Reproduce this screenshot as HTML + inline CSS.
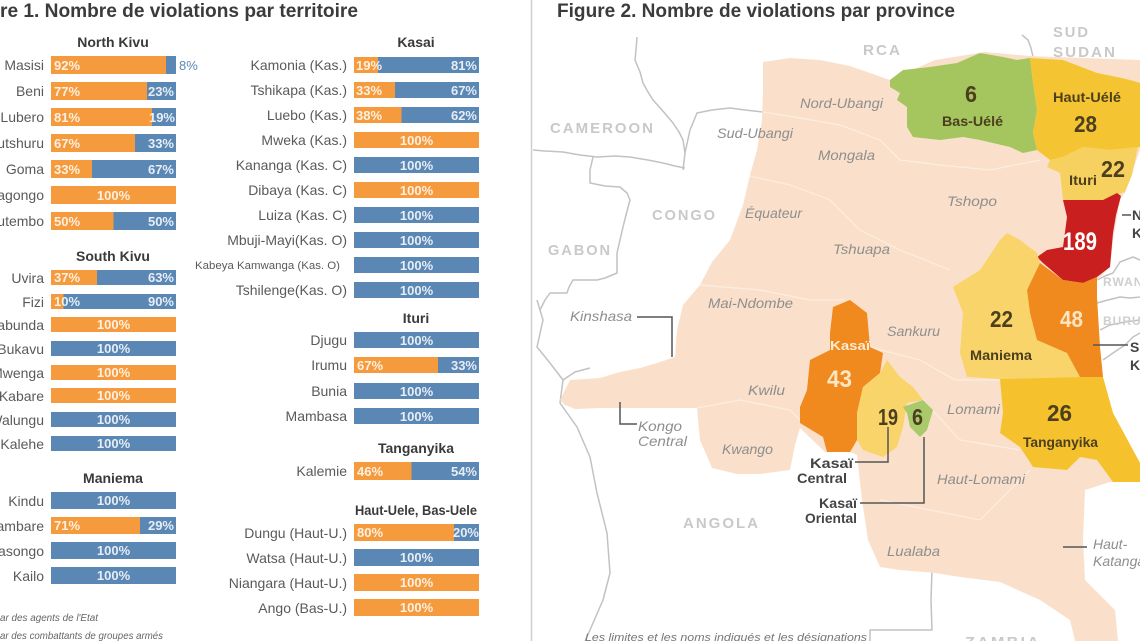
<!DOCTYPE html>
<html><head><meta charset="utf-8"><style>
html,body{margin:0;padding:0;background:#fff;}
svg{display:block;}
text{font-family:"Liberation Sans",sans-serif;}
.t{font-weight:bold;font-size:19px;fill:#3b3b3b;}
.h{font-weight:bold;font-size:14px;fill:#3a3a3a;text-anchor:middle;}
.l{font-size:14px;fill:#5a5a5a;text-anchor:end;}
.p{font-weight:bold;font-size:13px;fill:#fff;fill-opacity:.85;}
.pe{font-weight:bold;font-size:13px;fill:#fff;fill-opacity:.85;text-anchor:end;}
.pm{font-weight:bold;font-size:13px;fill:#fff;fill-opacity:.85;text-anchor:middle;}
.pv{font-style:italic;font-size:14px;fill:#8e8e8e;}
.cn{font-weight:bold;font-size:15px;fill:#c9c9c9;letter-spacing:2px;}
.n{font-weight:bold;font-size:23px;fill:#4b3f1e;}
.nl{font-weight:bold;font-size:14px;fill:#4b3f1e;}
.dl{font-weight:bold;font-size:14px;fill:#444;}
</style></head><body>
<svg width="1140" height="641" viewBox="0 0 1140 641" xmlns="http://www.w3.org/2000/svg">
<rect width="1140" height="641" fill="#fff"/>

<!-- Titles -->
<text class="t" x="0" y="17" textLength="358" lengthAdjust="spacingAndGlyphs">re 1. Nombre de violations par territoire</text>
<text class="t" x="557" y="17" textLength="398" lengthAdjust="spacingAndGlyphs">Figure 2. Nombre de violations par province</text>
<line x1="531.5" y1="0" x2="531.5" y2="641" stroke="#cfcfcf" stroke-width="1.5"/>

<!-- ===== LEFT PANEL ===== -->
<text class="h" x="113" y="47">North Kivu</text>
<g>
<rect x="51" y="56" width="115" height="18" fill="#F59B3D"/><rect x="166" y="56" width="10" height="18" fill="#5B87B5"/>
<text class="p" x="54" y="70">92%</text><text x="179" y="70" font-size="13" fill="#5B87B5">8%</text>
<text class="l" x="44" y="70">Masisi</text>

<rect x="51" y="82" width="96" height="18" fill="#F59B3D"/><rect x="147" y="82" width="29" height="18" fill="#5B87B5"/>
<text class="p" x="54" y="96">77%</text><text class="pe" x="174" y="96">23%</text>
<text class="l" x="44" y="96">Beni</text>

<rect x="51" y="108" width="101" height="18" fill="#F59B3D"/><rect x="152" y="108" width="24" height="18" fill="#5B87B5"/>
<text class="p" x="54" y="122">81%</text><text class="pe" x="175" y="122">19%</text>
<text class="l" x="44" y="122">Lubero</text>

<rect x="51" y="134" width="84" height="18" fill="#F59B3D"/><rect x="135" y="134" width="41" height="18" fill="#5B87B5"/>
<text class="p" x="54" y="148">67%</text><text class="pe" x="174" y="148">33%</text>
<text class="l" x="44" y="148">Rutshuru</text>

<rect x="51" y="160" width="41" height="18" fill="#F59B3D"/><rect x="92" y="160" width="84" height="18" fill="#5B87B5"/>
<text class="p" x="54" y="174">33%</text><text class="pe" x="174" y="174">67%</text>
<text class="l" x="44" y="174">Goma</text>

<rect x="51" y="186" width="125" height="18" fill="#F59B3D"/>
<text class="pm" x="113.5" y="200">100%</text>
<text class="l" x="44" y="200">Nyiragongo</text>

<rect x="51" y="212" width="62.5" height="18" fill="#F59B3D"/><rect x="113.5" y="212" width="62.5" height="18" fill="#5B87B5"/>
<text class="p" x="54" y="226">50%</text><text class="pe" x="174" y="226">50%</text>
<text class="l" x="44" y="226">Butembo</text>
</g>

<text class="h" x="113" y="261">South Kivu</text>
<g>
<rect x="51" y="270" width="46" height="15" fill="#F59B3D"/><rect x="97" y="270" width="79" height="15" fill="#5B87B5"/>
<text class="p" x="54" y="282">37%</text><text class="pe" x="174" y="282">63%</text>
<text class="l" x="44" y="283">Uvira</text>

<rect x="51" y="294" width="12.5" height="15" fill="#F59B3D"/><rect x="63.5" y="294" width="112.5" height="15" fill="#5B87B5"/>
<text class="p" x="54" y="306">10%</text><text class="pe" x="174" y="306">90%</text>
<text class="l" x="44" y="307">Fizi</text>

<rect x="51" y="317" width="125" height="15" fill="#F59B3D"/><text class="pm" x="113.5" y="329">100%</text>
<text class="l" x="44" y="330">Shabunda</text>
<rect x="51" y="341" width="125" height="15" fill="#5B87B5"/><text class="pm" x="113.5" y="353">100%</text>
<text class="l" x="44" y="354">Bukavu</text>
<rect x="51" y="365" width="125" height="15" fill="#F59B3D"/><text class="pm" x="113.5" y="377">100%</text>
<text class="l" x="44" y="378">Mwenga</text>
<rect x="51" y="388" width="125" height="15" fill="#F59B3D"/><text class="pm" x="113.5" y="400">100%</text>
<text class="l" x="44" y="401">Kabare</text>
<rect x="51" y="412" width="125" height="15" fill="#5B87B5"/><text class="pm" x="113.5" y="424">100%</text>
<text class="l" x="44" y="425">Walungu</text>
<rect x="51" y="436" width="125" height="15" fill="#5B87B5"/><text class="pm" x="113.5" y="448">100%</text>
<text class="l" x="44" y="449">Kalehe</text>
</g>

<text class="h" x="113" y="483">Maniema</text>
<g>
<rect x="51" y="492" width="125" height="17" fill="#5B87B5"/><text class="pm" x="113.5" y="505">100%</text>
<text class="l" x="44" y="506">Kindu</text>
<rect x="51" y="517" width="89" height="17" fill="#F59B3D"/><rect x="140" y="517" width="36" height="17" fill="#5B87B5"/>
<text class="p" x="54" y="530">71%</text><text class="pe" x="174" y="530">29%</text>
<text class="l" x="44" y="531">Kabambare</text>
<rect x="51" y="542" width="125" height="17" fill="#5B87B5"/><text class="pm" x="113.5" y="555">100%</text>
<text class="l" x="44" y="556">Kasongo</text>
<rect x="51" y="567" width="125" height="17" fill="#5B87B5"/><text class="pm" x="113.5" y="580">100%</text>
<text class="l" x="44" y="581">Kailo</text>
</g>

<text x="0" y="621" font-size="10.5" font-style="italic" fill="#666" textLength="98" lengthAdjust="spacingAndGlyphs">ar des agents de l'Etat</text>
<text x="0" y="639" font-size="10.5" font-style="italic" fill="#666" textLength="163" lengthAdjust="spacingAndGlyphs">ar des combattants de groupes armés</text>

<!-- ===== MIDDLE PANEL ===== -->
<text class="h" x="416" y="47">Kasai</text>
<g>
<rect x="354" y="57" width="24" height="16" fill="#F59B3D"/><rect x="378" y="57" width="101" height="16" fill="#5B87B5"/>
<text class="p" x="356" y="70">19%</text><text class="pe" x="477" y="70">81%</text>
<text class="l" x="347" y="70">Kamonia (Kas.)</text>

<rect x="354" y="82" width="41" height="16" fill="#F59B3D"/><rect x="395" y="82" width="84" height="16" fill="#5B87B5"/>
<text class="p" x="356" y="95">33%</text><text class="pe" x="477" y="95">67%</text>
<text class="l" x="347" y="95">Tshikapa (Kas.)</text>

<rect x="354" y="107" width="47.5" height="16" fill="#F59B3D"/><rect x="401.5" y="107" width="77.5" height="16" fill="#5B87B5"/>
<text class="p" x="356" y="120">38%</text><text class="pe" x="477" y="120">62%</text>
<text class="l" x="347" y="120">Luebo (Kas.)</text>

<rect x="354" y="132" width="125" height="16" fill="#F59B3D"/><text class="pm" x="416.5" y="145">100%</text>
<text class="l" x="347" y="145">Mweka (Kas.)</text>
<rect x="354" y="157" width="125" height="16" fill="#5B87B5"/><text class="pm" x="416.5" y="170">100%</text>
<text class="l" x="347" y="170">Kananga (Kas. C)</text>
<rect x="354" y="182" width="125" height="16" fill="#F59B3D"/><text class="pm" x="416.5" y="195">100%</text>
<text class="l" x="347" y="195">Dibaya (Kas. C)</text>
<rect x="354" y="207" width="125" height="16" fill="#5B87B5"/><text class="pm" x="416.5" y="220">100%</text>
<text class="l" x="347" y="220">Luiza (Kas. C)</text>
<rect x="354" y="232" width="125" height="16" fill="#5B87B5"/><text class="pm" x="416.5" y="245">100%</text>
<text class="l" x="347" y="245">Mbuji-Mayi(Kas. O)</text>
<rect x="354" y="257" width="125" height="16" fill="#5B87B5"/><text class="pm" x="416.5" y="270">100%</text>
<text x="340" y="269" font-size="11" fill="#5a5a5a" text-anchor="end" textLength="145" lengthAdjust="spacingAndGlyphs">Kabeya Kamwanga (Kas. O)</text>
<rect x="354" y="282" width="125" height="16" fill="#5B87B5"/><text class="pm" x="416.5" y="295">100%</text>
<text class="l" x="347" y="295">Tshilenge(Kas. O)</text>
</g>

<text class="h" x="416" y="323">Ituri</text>
<g>
<rect x="354" y="332" width="125" height="16" fill="#5B87B5"/><text class="pm" x="416.5" y="345">100%</text>
<text class="l" x="347" y="345">Djugu</text>
<rect x="354" y="357" width="84" height="16" fill="#F59B3D"/><rect x="438" y="357" width="41" height="16" fill="#5B87B5"/>
<text class="p" x="357" y="370">67%</text><text class="pe" x="477" y="370">33%</text>
<text class="l" x="347" y="370">Irumu</text>
<rect x="354" y="383" width="125" height="16" fill="#5B87B5"/><text class="pm" x="416.5" y="396">100%</text>
<text class="l" x="347" y="396">Bunia</text>
<rect x="354" y="408" width="125" height="16" fill="#5B87B5"/><text class="pm" x="416.5" y="421">100%</text>
<text class="l" x="347" y="421">Mambasa</text>
</g>

<text class="h" x="416" y="453">Tanganyika</text>
<rect x="354" y="462" width="57.5" height="18" fill="#F59B3D"/><rect x="411.5" y="462" width="67.5" height="18" fill="#5B87B5"/>
<text class="p" x="357" y="476">46%</text><text class="pe" x="477" y="476">54%</text>
<text class="l" x="347" y="476">Kalemie</text>

<text x="355" y="515" font-size="14" font-weight="bold" fill="#3a3a3a" textLength="122" lengthAdjust="spacingAndGlyphs">Haut-Uele, Bas-Uele</text>
<g>
<rect x="354" y="524" width="100" height="17" fill="#F59B3D"/><rect x="454" y="524" width="25" height="17" fill="#5B87B5"/>
<text class="p" x="357" y="537">80%</text><text class="pe" x="479" y="537">20%</text>
<text class="l" x="347" y="538">Dungu (Haut-U.)</text>
<rect x="354" y="549" width="125" height="17" fill="#5B87B5"/><text class="pm" x="416.5" y="562">100%</text>
<text class="l" x="347" y="563">Watsa (Haut-U.)</text>
<rect x="354" y="574" width="125" height="17" fill="#F59B3D"/><text class="pm" x="416.5" y="587">100%</text>
<text class="l" x="347" y="588">Niangara (Haut-U.)</text>
<rect x="354" y="599" width="125" height="17" fill="#F59B3D"/><text class="pm" x="416.5" y="612">100%</text>
<text class="l" x="347" y="613">Ango (Bas-U.)</text>
</g>

<!-- ===== MAP ===== -->
<!-- neighbour borders -->
<g fill="none" stroke="#c2c2c2" stroke-width="1.5" stroke-linejoin="round">
<polyline points="637,37 636,50 635,60 640,72 643,83 648,92 653,100 662,110 673,123 679,132 683,140 685,153 683,170"/>
<polyline points="533,150 545,151 563,152 580,155 597,157 615,156 630,157 648,160 663,163 675,166 685,168"/>
<polyline points="685,153 690,130 697,113 712,110 730,108 745,110 763,112"/>
<polyline points="593,157 590,170 590,183 605,186 620,187 627,193 630,200 626,215 623,227 620,240 617,253 617,273 605,278 597,280 585,280 573,280 569,287 567,293 555,293 550,293 545,300 540,310"/>
<polyline points="537,300 543,320 537,347 550,363 563,380 560,403 577,427 590,457 597,493 607,533 610,573 603,600 590,630 585,641"/>
<polyline points="563,380 575,372 590,368"/>
<polyline points="1022,35 1028,40 1031,48 1033,57"/>
<polyline points="932,570 931,600 932,630 900,630 870,630 870,641"/>
<polyline points="1097,280 1105,276 1113,273 1120,262 1133,257 1140,260"/>
<polyline points="1097,303 1108,300 1120,297 1130,298 1140,297"/>
<polyline points="1100,330 1110,325 1125,322 1140,320"/>
<polyline points="1103,360 1113,353 1125,345 1133,337 1140,333"/>
</g>

<!-- DRC base -->
<polygon fill="#FAE0CA" points="763,62 790,58 820,60 850,66 890,80 935,60 985,52 1030,56 1140,60 1140,150 1125,192 1120,200 1113,240 1110,267 1097,280 1097,300 1100,347 1103,377 1113,413 1140,463 1140,482 1110,482 1085,490 1083,540 1085,580 1100,595 1115,610 1118,641 1075,641 1070,620 1040,600 1000,582 960,577 935,573 900,570 880,567 868,540 862,500 857,455 850,452 825,452 800,428 795,445 790,470 760,474 737,474 712,468 700,440 697,408 640,408 600,408 575,409 565,405 560,400 570,380 600,378 620,372 640,368 660,362 675,357 677,330 683,305 700,285 712,262 730,240 743,205 750,175 757,150 762,120 763,90"/>
<!-- faint internal lines -->
<g fill="none" stroke="#fff" stroke-opacity=".45" stroke-width="1.2">
<polyline points="763,112 800,118 840,125 880,140 900,160 940,165 990,170 1040,160"/>
<polyline points="745,175 790,185 830,200 860,230 900,250 950,270"/>
<polyline points="700,285 760,290 810,300 845,300"/>
<polyline points="697,408 740,400 790,410 800,420"/>
<polyline points="870,347 920,360 955,380 1000,380"/>
<polyline points="923,400 960,440 1020,450"/>
<polyline points="880,500 930,510 980,520 1030,470"/>
</g>

<!-- provinces -->
<polygon fill="#A5C55E" points="890,80 903,70 930,67 957,63 980,53 1003,57 1017,60 1030,58 1033,83 1037,110 1033,133 1037,150 1023,153 1010,147 980,140 963,137 940,140 913,137 907,127 907,107 897,100 900,93 890,87"/>
<polygon fill="#F5C432" points="1030,58 1063,60 1097,73 1117,77 1130,80 1140,83 1140,147 1110,150 1083,147 1063,157 1050,160 1037,150 1033,133 1037,110 1033,83"/>
<polygon fill="#F7D160" points="1050,160 1063,157 1083,147 1110,150 1138,147 1132,175 1125,192 1103,200 1063,200 1060,173 1047,167"/>
<polygon fill="#C91F1F" points="1063,200 1103,200 1117,193 1121,196 1116,215 1113,233 1110,267 1097,277 1083,283 1063,280 1043,263 1037,257 1047,250 1063,247 1067,217"/>
<polygon fill="#F8D46A" points="953,287 980,270 1000,240 1007,233 1020,240 1037,253 1040,263 1027,290 1030,313 1037,340 1067,353 1080,377 1000,379 967,377 960,353 963,313"/>
<polygon fill="#F08A1E" points="1027,290 1040,263 1063,280 1083,283 1097,277 1097,297 1100,347 1103,377 1080,377 1067,353 1037,340 1030,313"/>
<polygon fill="#F5C22E" points="1000,379 1080,377 1103,377 1113,413 1140,463 1140,482 1113,482 1097,460 1080,457 1067,470 1033,467 1020,447 1000,433 1003,413"/>
<polygon fill="#F08A1E" points="833,307 850,300 867,313 870,347 883,353 880,373 863,387 857,413 857,440 850,452 827,452 823,437 800,423 800,407 807,390 810,360 830,350 830,333"/>
<polygon fill="#F8D46A" points="863,387 880,373 887,360 900,377 913,387 923,400 907,403 903,427 897,447 883,457 863,450 857,440 857,413"/>
<polygon fill="#A9C96A" points="903,407 923,400 933,410 927,430 920,437 910,427 907,413"/>

<!-- neighbour country labels -->
<text class="cn" x="550" y="133" textLength="105" lengthAdjust="spacingAndGlyphs">CAMEROON</text>
<text class="cn" x="652" y="220" textLength="65" lengthAdjust="spacingAndGlyphs">CONGO</text>
<text class="cn" x="548" y="255" textLength="64" lengthAdjust="spacingAndGlyphs">GABON</text>
<text class="cn" x="863" y="55" textLength="39" lengthAdjust="spacingAndGlyphs">RCA</text>
<text class="cn" x="1053" y="37" textLength="37" lengthAdjust="spacingAndGlyphs">SUD</text>
<text class="cn" x="1053" y="57" textLength="64" lengthAdjust="spacingAndGlyphs">SUDAN</text>
<text class="cn" x="683" y="528" textLength="77" lengthAdjust="spacingAndGlyphs">ANGOLA</text>
<text class="cn" x="965" y="647" textLength="76" lengthAdjust="spacingAndGlyphs">ZAMBIA</text>
<text x="1103" y="286" font-size="12" font-weight="bold" fill="#cfcfcf" letter-spacing="1">RWAN</text>
<text x="1103" y="325" font-size="12" font-weight="bold" fill="#cfcfcf" letter-spacing="1">BURU</text>

<!-- province names (italic) -->
<text class="pv" x="800" y="108" textLength="83" lengthAdjust="spacingAndGlyphs">Nord-Ubangi</text>
<text class="pv" x="717" y="138" textLength="76" lengthAdjust="spacingAndGlyphs">Sud-Ubangi</text>
<text class="pv" x="818" y="160" textLength="57" lengthAdjust="spacingAndGlyphs">Mongala</text>
<text class="pv" x="745" y="218" textLength="57" lengthAdjust="spacingAndGlyphs">Équateur</text>
<text class="pv" x="947" y="206" textLength="50" lengthAdjust="spacingAndGlyphs">Tshopo</text>
<text class="pv" x="833" y="254" textLength="57" lengthAdjust="spacingAndGlyphs">Tshuapa</text>
<text class="pv" x="708" y="308" textLength="85" lengthAdjust="spacingAndGlyphs">Mai-Ndombe</text>
<text class="pv" x="570" y="321" textLength="62" lengthAdjust="spacingAndGlyphs">Kinshasa</text>
<text class="pv" x="638" y="431" textLength="44" lengthAdjust="spacingAndGlyphs">Kongo</text>
<text class="pv" x="638" y="446" textLength="49" lengthAdjust="spacingAndGlyphs">Central</text>
<text class="pv" x="748" y="395" textLength="37" lengthAdjust="spacingAndGlyphs">Kwilu</text>
<text class="pv" x="722" y="454" textLength="51" lengthAdjust="spacingAndGlyphs">Kwango</text>
<text class="pv" x="887" y="336" textLength="53" lengthAdjust="spacingAndGlyphs">Sankuru</text>
<text class="pv" x="947" y="414" textLength="53" lengthAdjust="spacingAndGlyphs">Lomami</text>
<text class="pv" x="937" y="484" textLength="88" lengthAdjust="spacingAndGlyphs">Haut-Lomami</text>
<text class="pv" x="887" y="556" textLength="53" lengthAdjust="spacingAndGlyphs">Lualaba</text>
<text class="pv" x="1093" y="549">Haut-</text>
<text class="pv" x="1093" y="566">Katanga</text>

<!-- leader lines -->
<g fill="none" stroke="#555" stroke-width="1.5">
<polyline points="637,317 672,317 672,357"/>
<polyline points="620,402 620,424 637,424"/>
<polyline points="855,462 888,462 888,427"/>
<polyline points="860,503 924,503 924,437"/>
<line x1="1122" y1="215" x2="1131" y2="215"/>
<line x1="1093" y1="345" x2="1128" y2="345"/>
<line x1="1063" y1="547" x2="1087" y2="547"/>
</g>

<!-- province values -->
<text class="n" x="965" y="102" textLength="12" lengthAdjust="spacingAndGlyphs">6</text>
<text class="nl" x="942" y="126" textLength="61" lengthAdjust="spacingAndGlyphs">Bas-Uélé</text>
<text class="nl" x="1053" y="102" textLength="68" lengthAdjust="spacingAndGlyphs">Haut-Uélé</text>
<text class="n" x="1074" y="132" textLength="23" lengthAdjust="spacingAndGlyphs">28</text>
<text class="nl" x="1069" y="185" textLength="28" lengthAdjust="spacingAndGlyphs">Ituri</text>
<text class="n" x="1101" y="177" textLength="24" lengthAdjust="spacingAndGlyphs">22</text>
<text x="1063" y="250" font-size="25" font-weight="bold" fill="#fff" textLength="34" lengthAdjust="spacingAndGlyphs">189</text>
<text class="dl" x="1132" y="220">N</text>
<text class="dl" x="1132" y="238">K</text>
<text class="n" x="990" y="327" textLength="23" lengthAdjust="spacingAndGlyphs">22</text>
<text class="nl" x="970" y="360" textLength="62" lengthAdjust="spacingAndGlyphs">Maniema</text>
<text x="1060" y="327" font-size="23" font-weight="bold" fill="#FCE6C4" textLength="23" lengthAdjust="spacingAndGlyphs">48</text>
<text class="dl" x="1130" y="352">S</text>
<text class="dl" x="1130" y="370">K</text>
<text class="n" x="1047" y="421" textLength="25" lengthAdjust="spacingAndGlyphs">26</text>
<text class="nl" x="1023" y="447" textLength="75" lengthAdjust="spacingAndGlyphs">Tanganyika</text>
<text x="830" y="350" font-size="13" font-weight="bold" fill="#FDEBD2" textLength="40" lengthAdjust="spacingAndGlyphs">Kasaï</text>
<text x="827" y="387" font-size="24" font-weight="bold" fill="#FCE6C4" textLength="25" lengthAdjust="spacingAndGlyphs">43</text>
<text class="n" x="878" y="425" textLength="20" lengthAdjust="spacingAndGlyphs">19</text>
<text class="n" x="912" y="425" textLength="11" lengthAdjust="spacingAndGlyphs">6</text>
<text class="dl" x="853" y="468" text-anchor="end" textLength="43" lengthAdjust="spacingAndGlyphs">Kasaï</text>
<text class="dl" x="847" y="483" text-anchor="end" textLength="50" lengthAdjust="spacingAndGlyphs">Central</text>
<text class="dl" x="857" y="508" text-anchor="end" textLength="38" lengthAdjust="spacingAndGlyphs">Kasaï</text>
<text class="dl" x="857" y="523" text-anchor="end" textLength="52" lengthAdjust="spacingAndGlyphs">Oriental</text>

<text x="585" y="641" font-size="11" font-style="italic" fill="#777" textLength="282" lengthAdjust="spacingAndGlyphs">Les limites et les noms indiqués et les désignations</text>
</svg>
</body></html>
